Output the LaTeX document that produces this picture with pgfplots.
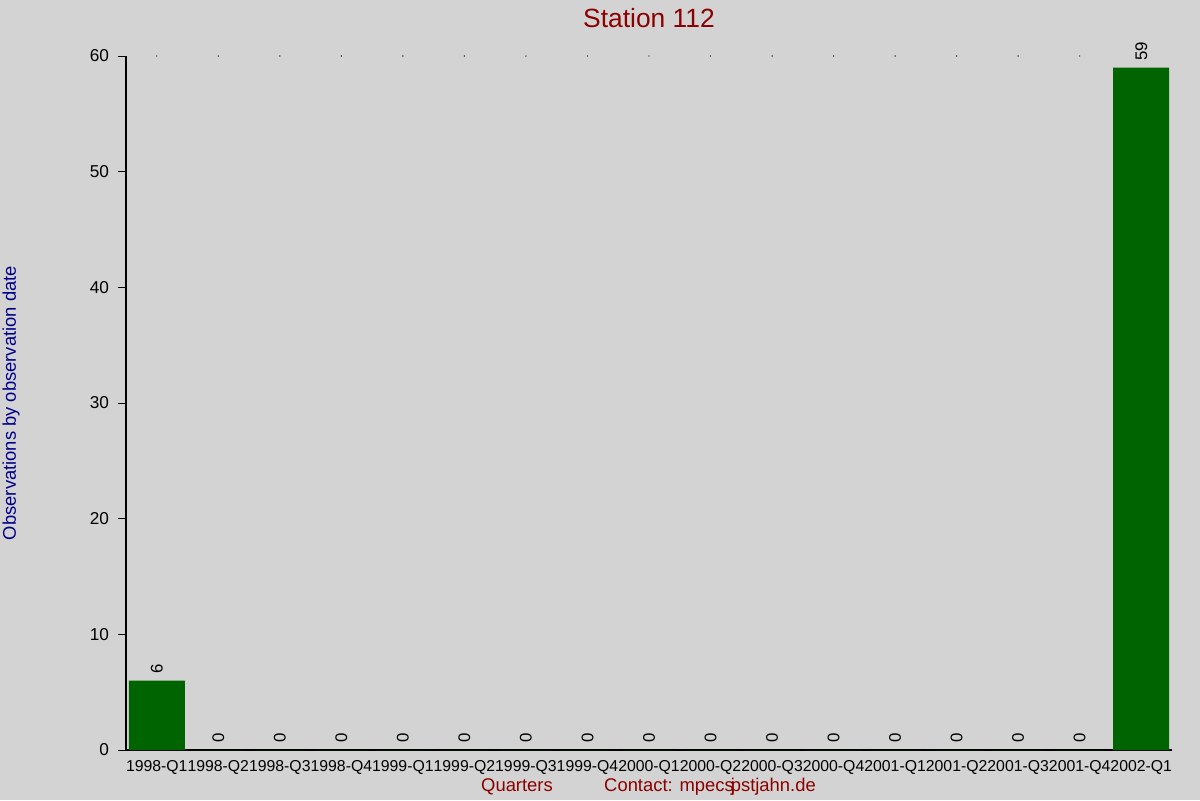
\documentclass[border=0pt]{standalone}
\usepackage{pgfplots}
\pgfplotsset{compat=1.18}
\usepackage{fontspec}
\setmainfont{Liberation Sans}
\definecolor{bg}{RGB}{211,211,211}
\definecolor{bargreen}{RGB}{0,100,0}
\definecolor{titlered}{RGB}{139,0,0}
\definecolor{labelblue}{RGB}{0,0,139}
\begin{document}
\begin{tikzpicture}[x=1pt,y=1pt]
\fill[bg] (0,0) rectangle (600,400);
\useasboundingbox (0,0) rectangle (600,400);
\begin{axis}[
  at={(63pt,25pt)}, anchor=south west,
  scale only axis, width=523pt, height=347pt,
  /pgf/number format/assume math mode=true,
  xmin=-0.5, xmax=16.5, ymin=0, ymax=60,
  axis x line*=bottom, axis y line*=left,
  axis line style={black, line width=0.6pt, -},
  xtick={0,...,16},
  xticklabels={1998-Q1,1998-Q2,1998-Q3,1998-Q4,1999-Q1,1999-Q2,1999-Q3,1999-Q4,2000-Q1,2000-Q2,2000-Q3,2000-Q4,2001-Q1,2001-Q2,2001-Q3,2001-Q4,2002-Q1},
  x tick style={draw=none},
  ytick={0,10,...,60},
  y tick style={black, line width=0.5pt},
  tick align=outside, major tick length=4pt,
  xticklabel style={font=\fontsize{7.9}{9}\selectfont, text=black, yshift=2.5pt},
  yticklabel style={font=\fontsize{8.6}{10}\selectfont, text=black, xshift=-1pt},
  clip=false,
]
\addplot[ybar, bar width=28pt, fill=bargreen, draw=none,
  nodes near coords,
  every node near coord/.append style={rotate=90, anchor=west, font=\fontsize{8.4}{10}\selectfont, text=black}]
  coordinates {(0,6) (1,0) (2,0) (3,0) (4,0) (5,0) (6,0) (7,0) (8,0) (9,0) (10,0) (11,0) (12,0) (13,0) (14,0) (15,0) (16,59)};
\pgfplotsinvokeforeach{0,...,15}{\fill[black] (axis cs:#1,60) circle[radius=0.35pt];}
\end{axis}
\node[text=titlered, font=\fontsize{13.2}{15}\selectfont] at (324.5,391) {Station 112};
\node[text=labelblue, font=\fontsize{9.2}{11}\selectfont, rotate=90] at (5.5,198.5) {Observations by observation date};
\node[text=titlered, font=\fontsize{9.2}{11}\selectfont] at (258.5,6.5) {Quarters};
\node[text=titlered, font=\fontsize{9.2}{11}\selectfont] at (355,6.5) {Contact: mpecs\kern-1.5pt j\kern-2pt pstjahn.de};
\end{tikzpicture}
\end{document}
